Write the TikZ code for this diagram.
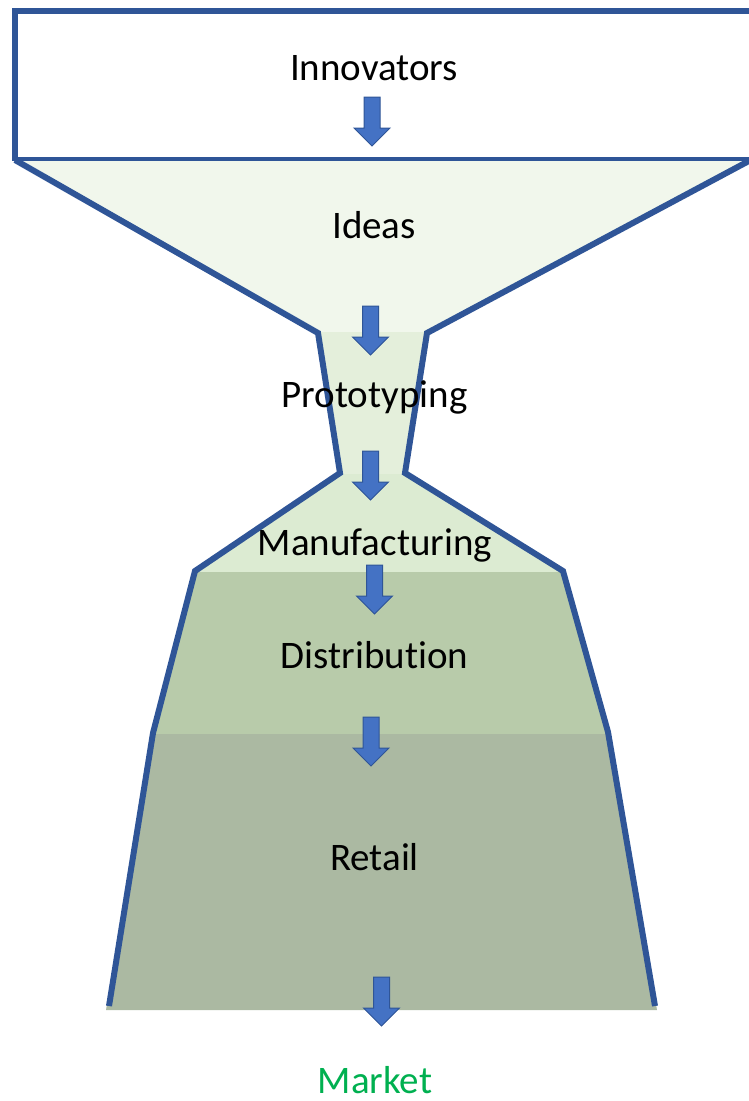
\documentclass[tikz,border=0pt]{standalone}
\usepackage{fontspec}
\setmainfont{Carlito}[Ligatures=NoCommon]
\definecolor{lineblue}{HTML}{2F5597}
\definecolor{arrowblue}{HTML}{4472C4}
\definecolor{fideas}{HTML}{F1F7EC}
\definecolor{fproto}{HTML}{E4EFDB}
\definecolor{fmanu}{HTML}{DCEBD2}
\definecolor{fdist}{HTML}{B8CBAA}
\definecolor{fretail}{HTML}{ABB9A2}
\definecolor{marketgreen}{HTML}{00B050}
\newcommand{\flowarrow}[2]{% #1 = centre x, #2 = top y
  \draw[arrowstyle] (#1-8,#2) -- (#1+8,#2) -- (#1+8,#2+31) -- (#1+18,#2+31)
    -- (#1,#2+49) -- (#1-18,#2+31) -- (#1-8,#2+31) -- cycle;}
\tikzset{
  outline/.style={draw=lineblue, line width=6pt, miter limit=10},
  arrowstyle/.style={fill=arrowblue, draw=lineblue, line width=1pt},
  lbl/.style={anchor=base, inner sep=0pt, font=\fontsize{39}{47}\selectfont},
}
\begin{document}
\begin{tikzpicture}[x=1pt,y=-1pt]
\useasboundingbox (0,0) rectangle (749,1101);
\clip (0,0) rectangle (749,1101);
% fills
\fill[fideas] (15,160) -- (747,160) -- (427,332) -- (318,332) -- cycle;
\fill[fproto] (318,332) -- (427,332) -- (405,474) -- (340,474) -- cycle;
\fill[fmanu] (340,474) -- (405,474) -- (563,572) -- (195,572) -- cycle;
\fill[fdist] (195,572) -- (563,572) -- (608,734) -- (153,734) -- cycle;
\fill[fretail] (153,734) -- (608,734) -- (657,1010) -- (106,1010) -- cycle;
% top box
\draw[draw=lineblue, line width=6.5pt] (15,159) -- (15,11) -- (760,11);
\draw[draw=lineblue, line width=4pt] (12,159) -- (760,159);
% funnel outlines
\draw[outline] (15,160) -- (318,333) -- (340,473) -- (195,571) -- (153,733) -- (109,1006);
\draw[outline] (760,155) -- (747,162) -- (427,333) -- (405,473) -- (563,571) -- (608,732) -- (655,1006);
% arrows
\flowarrow{372}{97}
\flowarrow{370.5}{306}
\flowarrow{370.5}{451}
\flowarrow{374.5}{565}
\flowarrow{371}{717}
\flowarrow{381.5}{977}
% labels
\node[lbl] (innovators) at (374,80) {Innovators};
\node[lbl] (ideas) at (374,238) {Ideas};
\node[lbl] (proto) at (374.5,407) {Prototyping};
\node[lbl] (manu) at (375,555) {Manufacturing};
\node[lbl] (dist) at (374.5,668) {Distribution};
\node[lbl] (retail) at (374.5,870) {Retail};
\node[lbl, text=marketgreen] (market) at (375,1093) {Market};
\end{tikzpicture}
\end{document}
